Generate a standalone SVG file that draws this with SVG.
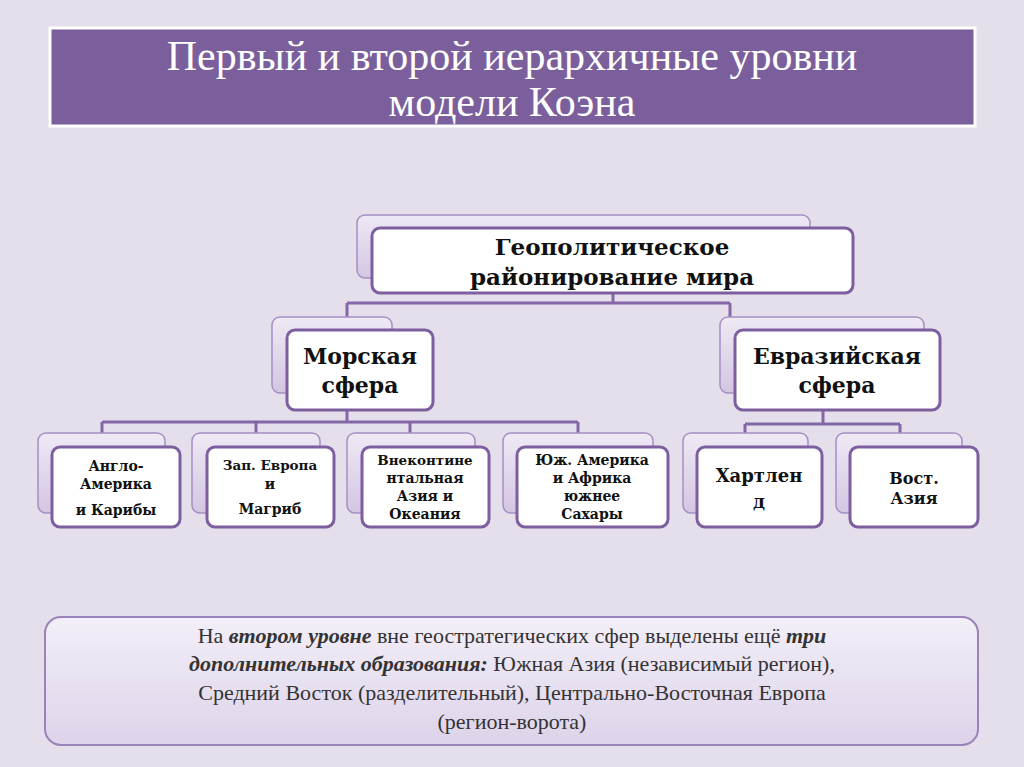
<svg xmlns="http://www.w3.org/2000/svg" width="1024" height="767" viewBox="0 0 1024 767">
<defs>
<linearGradient id="bk" x1="0" y1="0" x2="0" y2="1"><stop offset="0" stop-color="#efe9f5"/><stop offset="1" stop-color="#d3c6e2"/></linearGradient>
<linearGradient id="bb" x1="0" y1="0" x2="0" y2="1"><stop offset="0" stop-color="#f3eff8"/><stop offset="1" stop-color="#ddd3ea"/></linearGradient>
</defs>
<style>
.back{fill:url(#bk);stroke:#a58fc4;stroke-width:1.5}
.front{fill:#fff;stroke:#7d5fa0;stroke-width:3}
.t{font-family:"DejaVu Serif","Liberation Serif",serif;font-weight:bold;fill:#111;text-anchor:middle}
.s{font-family:"Liberation Serif","DejaVu Serif",serif;text-anchor:middle}
.c{fill:none;stroke:#8467a6;stroke-width:3}
</style>
<rect width="1024" height="767" fill="#e4dfeb"/>
<g id="title">
<rect x="50" y="28" width="925" height="98" fill="#7b5f9c" stroke="#fff" stroke-width="3"/>
<text class="s" x="512" y="70" font-size="42" fill="#fff">Первый и второй иерархичные уровни</text>
<text class="s" x="512" y="116" font-size="42" fill="#fff">модели Коэна</text>
</g>
<g id="connectors">
<path class="c" d="M613 293V303M347 303H730M347 303V318M730 303V318"/>
<path class="c" d="M347 410V422M102 422H578M102 422V434M256 422V434M410 422V434M578 422V434"/>
<path class="c" d="M823 410V424M745 424H900M745 424V434M900 424V434"/>
</g>
<g id="root"><rect class="back" x="357" y="215" width="453" height="63" rx="8"/><rect class="front" x="372" y="228" width="481" height="65" rx="8"/>
<text class="t" x="612" y="255" font-size="23">Геополитическое</text><text class="t" x="612" y="285" font-size="23">районирование мира</text></g>
<g id="sea"><rect class="back" x="272" y="317" width="120" height="76" rx="8"/><rect class="front" x="287" y="330" width="146" height="80" rx="8"/>
<text class="t" x="360" y="364" font-size="22">Морская</text><text class="t" x="360" y="393" font-size="22">сфера</text></g>
<g id="eurasia"><rect class="back" x="720" y="317" width="204" height="76" rx="8"/><rect class="front" x="735" y="330" width="205" height="80" rx="8"/>
<text class="t" x="837" y="364" font-size="22">Евразийская</text><text class="t" x="837" y="393" font-size="22">сфера</text></g>
<g id="n1"><rect class="back" x="38" y="433" width="127" height="80" rx="8"/><rect class="front" x="52" y="447" width="128" height="80" rx="8"/>
<text class="t" x="116" y="471" font-size="14">Англо-</text><text class="t" x="116" y="489" font-size="14">Америка</text><text class="t" x="116" y="515" font-size="14">и Карибы</text></g>
<g id="n2"><rect class="back" x="192" y="433" width="128" height="80" rx="8"/><rect class="front" x="207" y="447" width="127" height="80" rx="8"/>
<text class="t" x="270" y="470" font-size="13.5">Зап. Европа</text><text class="t" x="270" y="489" font-size="14">и</text><text class="t" x="270" y="514" font-size="14">Магриб</text></g>
<g id="n3"><rect class="back" x="347" y="433" width="128" height="80" rx="8"/><rect class="front" x="362" y="447" width="127" height="80" rx="8"/>
<text class="t" x="425" y="465" font-size="13.5">Внеконтине</text><text class="t" x="425" y="483" font-size="14">нтальная</text><text class="t" x="425" y="501" font-size="14">Азия и</text><text class="t" x="425" y="519" font-size="14">Океания</text></g>
<g id="n4"><rect class="back" x="503" y="433" width="150" height="80" rx="8"/><rect class="front" x="517" y="447" width="151" height="80" rx="8"/>
<text class="t" x="592" y="465" font-size="14">Юж. Америка</text><text class="t" x="592" y="483" font-size="14">и Африка</text><text class="t" x="592" y="501" font-size="14">южнее</text><text class="t" x="592" y="519" font-size="14">Сахары</text></g>
<g id="n5"><rect class="back" x="683" y="433" width="125" height="80" rx="8"/><rect class="front" x="697" y="447" width="125" height="80" rx="8"/>
<text class="t" x="759" y="482" font-size="18">Хартлен</text><text class="t" x="759" y="508" font-size="18">д</text></g>
<g id="n6"><rect class="back" x="836" y="433" width="126" height="80" rx="8"/><rect class="front" x="850" y="447" width="128" height="80" rx="8"/>
<text class="t" x="914" y="484" font-size="16">Вост.</text><text class="t" x="914" y="504" font-size="16">Азия</text></g>
<g id="note">
<rect x="45" y="617" width="933" height="128" rx="16" fill="url(#bb)" stroke="#9a82bb" stroke-width="2"/>
<g class="s" font-size="22" fill="#333">
<text x="512" y="643">На <tspan font-weight="bold" font-style="italic">втором уровне</tspan> вне геостратегических сфер  выделены ещё <tspan font-weight="bold" font-style="italic">три</tspan></text>
<text x="512" y="671"><tspan font-weight="bold" font-style="italic">дополнительных образования:</tspan> Южная Азия (независимый регион),</text>
<text x="512" y="700">Средний Восток (разделительный), Центрально-Восточная Европа</text>
<text x="512" y="729">(регион-ворота)</text>
</g></g>
</svg>
